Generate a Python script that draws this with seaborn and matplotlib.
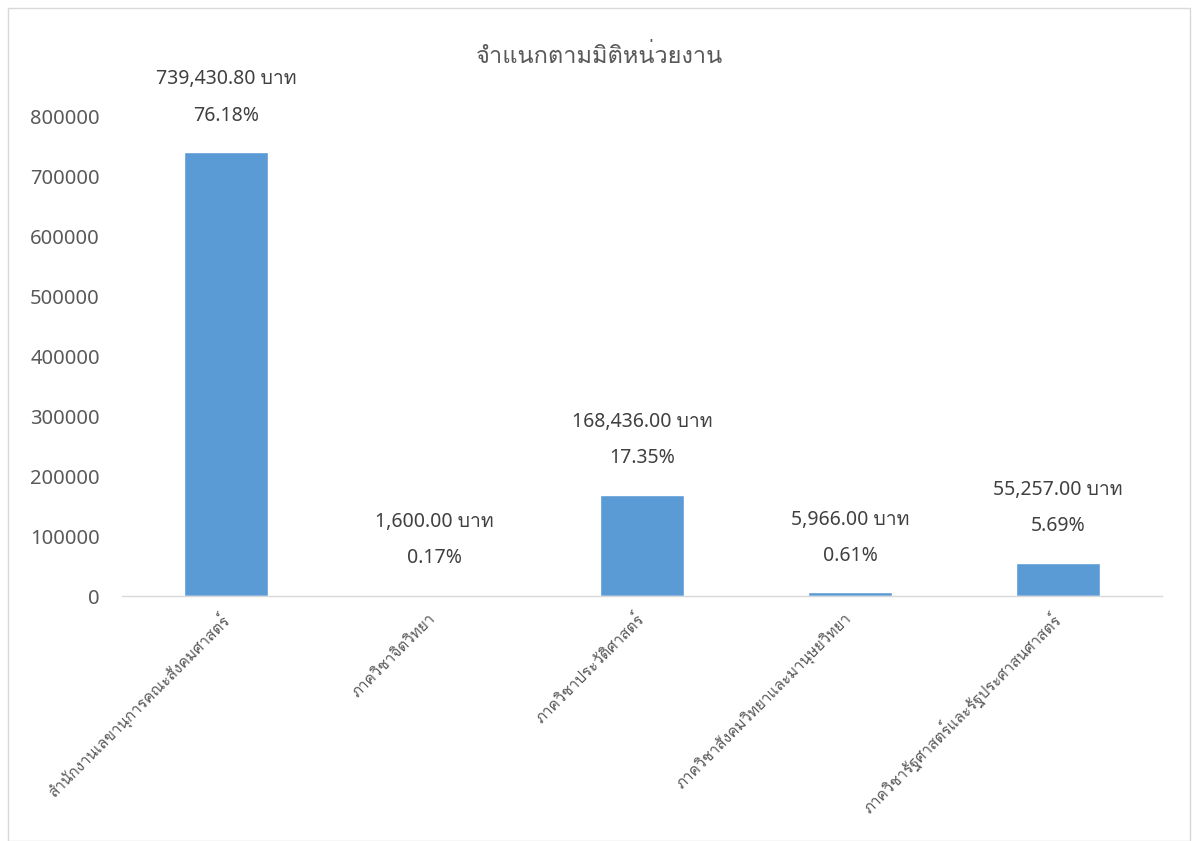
import matplotlib
matplotlib.use("Agg")
import matplotlib.pyplot as plt
import pandas as pd
import seaborn as sns
from matplotlib import font_manager
from matplotlib.ft2font import FT2Font
from matplotlib.patches import Rectangle

units = [
    "สำนักงานเลขานุการคณะสังคมศาสตร์",
    "ภาควิชาจิตวิทยา",
    "ภาควิชาประวัติศาสตร์",
    "ภาควิชาสังคมวิทยาและมานุษยวิทยา",
    "ภาควิชารัฐศาสตร์และรัฐประศาสนศาสตร์",
]
amounts = [739430.80, 1600.00, 168436.00, 5966.00, 55257.00]
percents = [76.18, 0.17, 17.35, 0.61, 5.69]
title = "จำแนกตามมิติหน่วยงาน"
yticks = [0, 100000, 200000, 300000, 400000, 500000, 600000, 700000, 800000]


def thai_families():
    # look for any installed family that actually carries Thai glyphs
    found = []
    for entry in font_manager.fontManager.ttflist:
        try:
            cmap = FT2Font(entry.fname).get_charmap()
        except Exception:
            continue
        if ord("ก") in cmap and ord("ำ") in cmap and entry.name not in found:
            found.append(entry.name)
    return found


sns.set_theme(style="white")
plt.rcParams["font.family"] = ["Noto Sans"] + thai_families() + ["DejaVu Sans"]

df = pd.DataFrame({"unit": units, "amount": amounts, "pct": percents})

fig = plt.figure(figsize=(11.99, 8.41), dpi=100)
ax = fig.add_axes([0.1018, 0.2913, 0.8674, 0.5707])

sns.barplot(data=df, x="unit", y="amount", color="#5B9BD5", width=0.4,
            saturation=1, ax=ax)

ax.set_ylim(0, 800000)
ax.set_xlim(-0.5, 4.5)
ax.set_yticks(yticks)
ax.set_yticklabels([str(t) for t in yticks], fontsize=14.5, color="#595959")
ax.tick_params(axis="y", length=0, pad=16)
ax.tick_params(axis="x", length=0, pad=15)
ax.set_xticks(range(len(units)))
ax.set_xticklabels(units, rotation=45, ha="right", va="center", rotation_mode="anchor",
                   fontsize=11, color="#595959")
ax.set_xlabel("")
ax.set_ylabel("")
for side in ["top", "right", "left"]:
    ax.spines[side].set_visible(False)
ax.spines["bottom"].set_color("#D9D9D9")
ax.spines["bottom"].set_linewidth(1)

for i, (amt, pct) in enumerate(zip(amounts, percents)):
    ax.annotate(f"{amt:,.2f} บาท", (i, amt), xytext=(0, 52.5), textcoords="offset points",
                ha="center", va="center", fontsize=14, color="#404040", annotation_clip=False)
    ax.annotate(f"{pct:.2f}%", (i, amt), xytext=(0, 26.5), textcoords="offset points",
                ha="center", va="center", fontsize=14, color="#404040", annotation_clip=False)

fig.text(0.5, 1 - 57 / 841, title, ha="center", va="center", fontsize=17, color="#595959")

fig.patches.append(Rectangle((8 / 1199, 0), 1182 / 1199, 1 - 8 / 841, transform=fig.transFigure,
                             fill=False, edgecolor="#D9D9D9", linewidth=1))

fig.savefig("out.png", dpi=100)
